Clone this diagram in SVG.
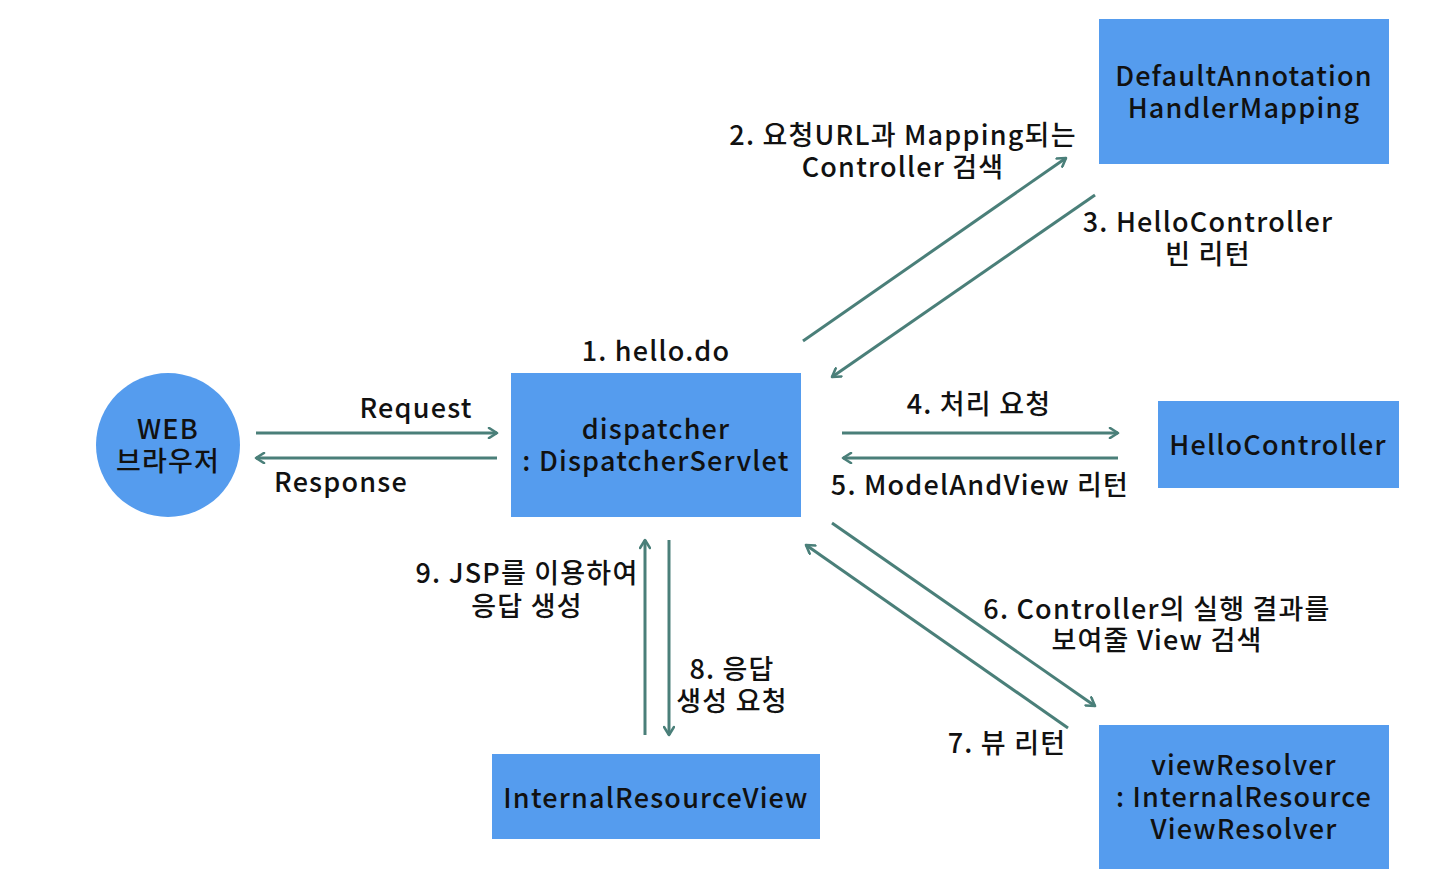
<svg xmlns="http://www.w3.org/2000/svg" width="1440" height="879" viewBox="0 0 1440 879">
<style>
.n{fill:#559CEE}
text{font-family:"Noto Sans CJK KR","Noto Sans",sans-serif;font-size:27px;font-weight:500;fill:#111;text-anchor:middle;dominant-baseline:central;letter-spacing:1.2px}
.c line{stroke:#4A7F79;stroke-width:3;fill:none;marker-end:url(#a)}
</style>
<defs>
<marker id="a" viewBox="0 0 12 12" refX="10" refY="6" markerWidth="12" markerHeight="12" markerUnits="userSpaceOnUse" orient="auto">
<path d="M2,1 L10,6 L2,11" fill="none" stroke="#4A7F79" stroke-width="2.6" stroke-linecap="round" stroke-linejoin="round"/>
</marker>
</defs>
<rect width="1440" height="879" fill="#fff"/>
<g id="web"><circle class="n" cx="168" cy="445" r="72"/><text x="168" y="427">WEB</text><text x="168" y="459">브라우저</text></g>
<g id="dispatcher"><rect class="n" x="511" y="373" width="290" height="144"/><text x="656" y="427">dispatcher</text><text x="656" y="459">: DispatcherServlet</text></g>
<g id="mapping"><rect class="n" x="1099" y="19" width="290" height="145"/><text x="1244" y="74">DefaultAnnotation</text><text x="1244" y="106">HandlerMapping</text></g>
<g id="hello"><rect class="n" x="1158" y="401" width="241" height="87"/><text x="1278" y="443">HelloController</text></g>
<g id="resolver"><rect class="n" x="1099" y="725" width="290" height="144"/><text x="1244" y="763">viewResolver</text><text x="1244" y="795">: InternalResource</text><text x="1244" y="827">ViewResolver</text></g>
<g id="irv"><rect class="n" x="492" y="754" width="328" height="85"/><text x="656" y="796">InternalResourceView</text></g>
<g class="c" id="connectors">
<line x1="256" y1="433" x2="497" y2="433"/>
<line x1="497" y1="458" x2="256" y2="458"/>
<line x1="803" y1="341" x2="1066" y2="158"/>
<line x1="1095" y1="195" x2="832" y2="377"/>
<line x1="842" y1="433" x2="1118" y2="433"/>
<line x1="1118" y1="458" x2="843" y2="458"/>
<line x1="832" y1="523" x2="1095" y2="706"/>
<line x1="1068" y1="728" x2="806" y2="545"/>
<line x1="645" y1="735" x2="645" y2="540"/>
<line x1="669" y1="540" x2="669" y2="735"/>
</g>
<g id="labels">
<text x="903" y="133">2. 요청URL과 Mapping되는</text>
<text x="903" y="165">Controller 검색</text>
<text x="1208" y="220">3. HelloController</text>
<text x="1208" y="252">빈 리턴</text>
<text x="656" y="349">1. hello.do</text>
<text x="416" y="406">Request</text>
<text x="341" y="480">Response</text>
<text x="979" y="402">4. 처리 요청</text>
<text x="980" y="483">5. ModelAndView 리턴</text>
<text x="527" y="571">9. JSP를 이용하여</text>
<text x="527" y="604">응답 생성</text>
<text x="732" y="667">8. 응답</text>
<text x="732" y="699">생성 요청</text>
<text x="1157" y="607">6. Controller의 실행 결과를</text>
<text x="1157" y="638">보여줄 View 검색</text>
<text x="1007" y="741">7. 뷰 리턴</text>
</g>
</svg>
